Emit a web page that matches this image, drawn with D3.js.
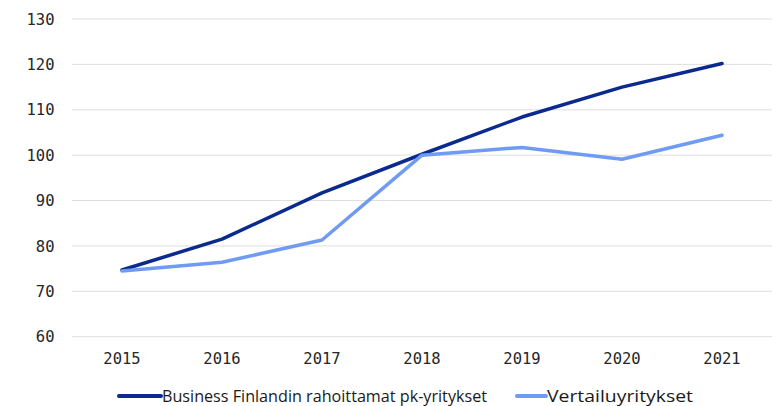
<!DOCTYPE html>
<html><head><meta charset="utf-8">
<script src="https://cdn.jsdelivr.net/npm/d3@7"></script>
<style>body{margin:0;background:#fff}</style>
</head><body><svg id="c" width="776" height="406"></svg>
<script>
const years = ["2015","2016","2017","2018","2019","2020","2021"];
const businessFinland = [74.7, 81.5, 91.7, 100.2, 108.4, 115.0, 120.2];
const vertailu = [74.5, 76.4, 81.3, 100.0, 101.7, 99.1, 104.4];
const yTicks = [60, 70, 80, 90, 100, 110, 120, 130];
const seriesNames = ["Business Finlandin rahoittamat pk-yritykset", "Vertailuyritykset"];
const colors = ["#0b2a8f", "#6f9bf2"];

const svg = d3.select("#c");
const plotLeft = 72, plotRight = 772, plotTop = 19, plotBottom = 336.7;
const x = d3.scalePoint().domain(years).range([plotLeft, plotRight]).padding(0.5);
const y = d3.scaleLinear().domain([60, 130]).range([plotBottom, plotTop]);

svg.append("g").selectAll("line").data(yTicks).join("line")
  .attr("x1", plotLeft).attr("x2", plotRight)
  .attr("y1", d => y(d)).attr("y2", d => y(d))
  .attr("stroke", "#dedede").attr("stroke-width", 1);

const mono = "'DejaVu Sans Mono', monospace";
svg.append("g").selectAll("text").data(yTicks).join("text")
  .attr("x", 54.5).attr("y", d => y(d)).attr("dy", "0.36em")
  .attr("text-anchor", "end").attr("font-family", mono).attr("font-size", 15.5)
  .attr("fill", "#262626").text(d => d);

svg.append("g").selectAll("text").data(years).join("text")
  .attr("x", d => x(d)).attr("y", 358).attr("dy", "0.36em")
  .attr("text-anchor", "middle").attr("font-family", mono).attr("font-size", 15.5)
  .attr("fill", "#262626").text(d => d);

const line = d3.line().x((d, i) => x(years[i])).y(d => y(d));
[businessFinland, vertailu].forEach((s, i) => {
  svg.append("path").datum(s).attr("d", line)
    .attr("fill", "none").attr("stroke", colors[i]).attr("stroke-width", 3.5)
    .attr("stroke-linejoin", "round").attr("stroke-linecap", "round");
});

const legX = [119, 517];
const legW = [42, 29];
const textW = [325, 146];
const sans = "'Open Sans', 'Noto Sans', sans-serif";
seriesNames.forEach((n, i) => {
  svg.append("line").attr("x1", legX[i]).attr("x2", legX[i] + legW[i])
    .attr("y1", 396).attr("y2", 396).attr("stroke", colors[i]).attr("stroke-width", 4)
    .attr("stroke-linecap", "round");
  svg.append("text").attr("x", legX[i] + legW[i] + 1).attr("y", 395.5).attr("dy", "0.36em")
    .attr("font-family", sans).attr("font-size", 17).attr("fill", "#1a1a1a")
    .attr("textLength", textW[i]).attr("lengthAdjust", "spacingAndGlyphs").text(n);
});
</script></body></html>
